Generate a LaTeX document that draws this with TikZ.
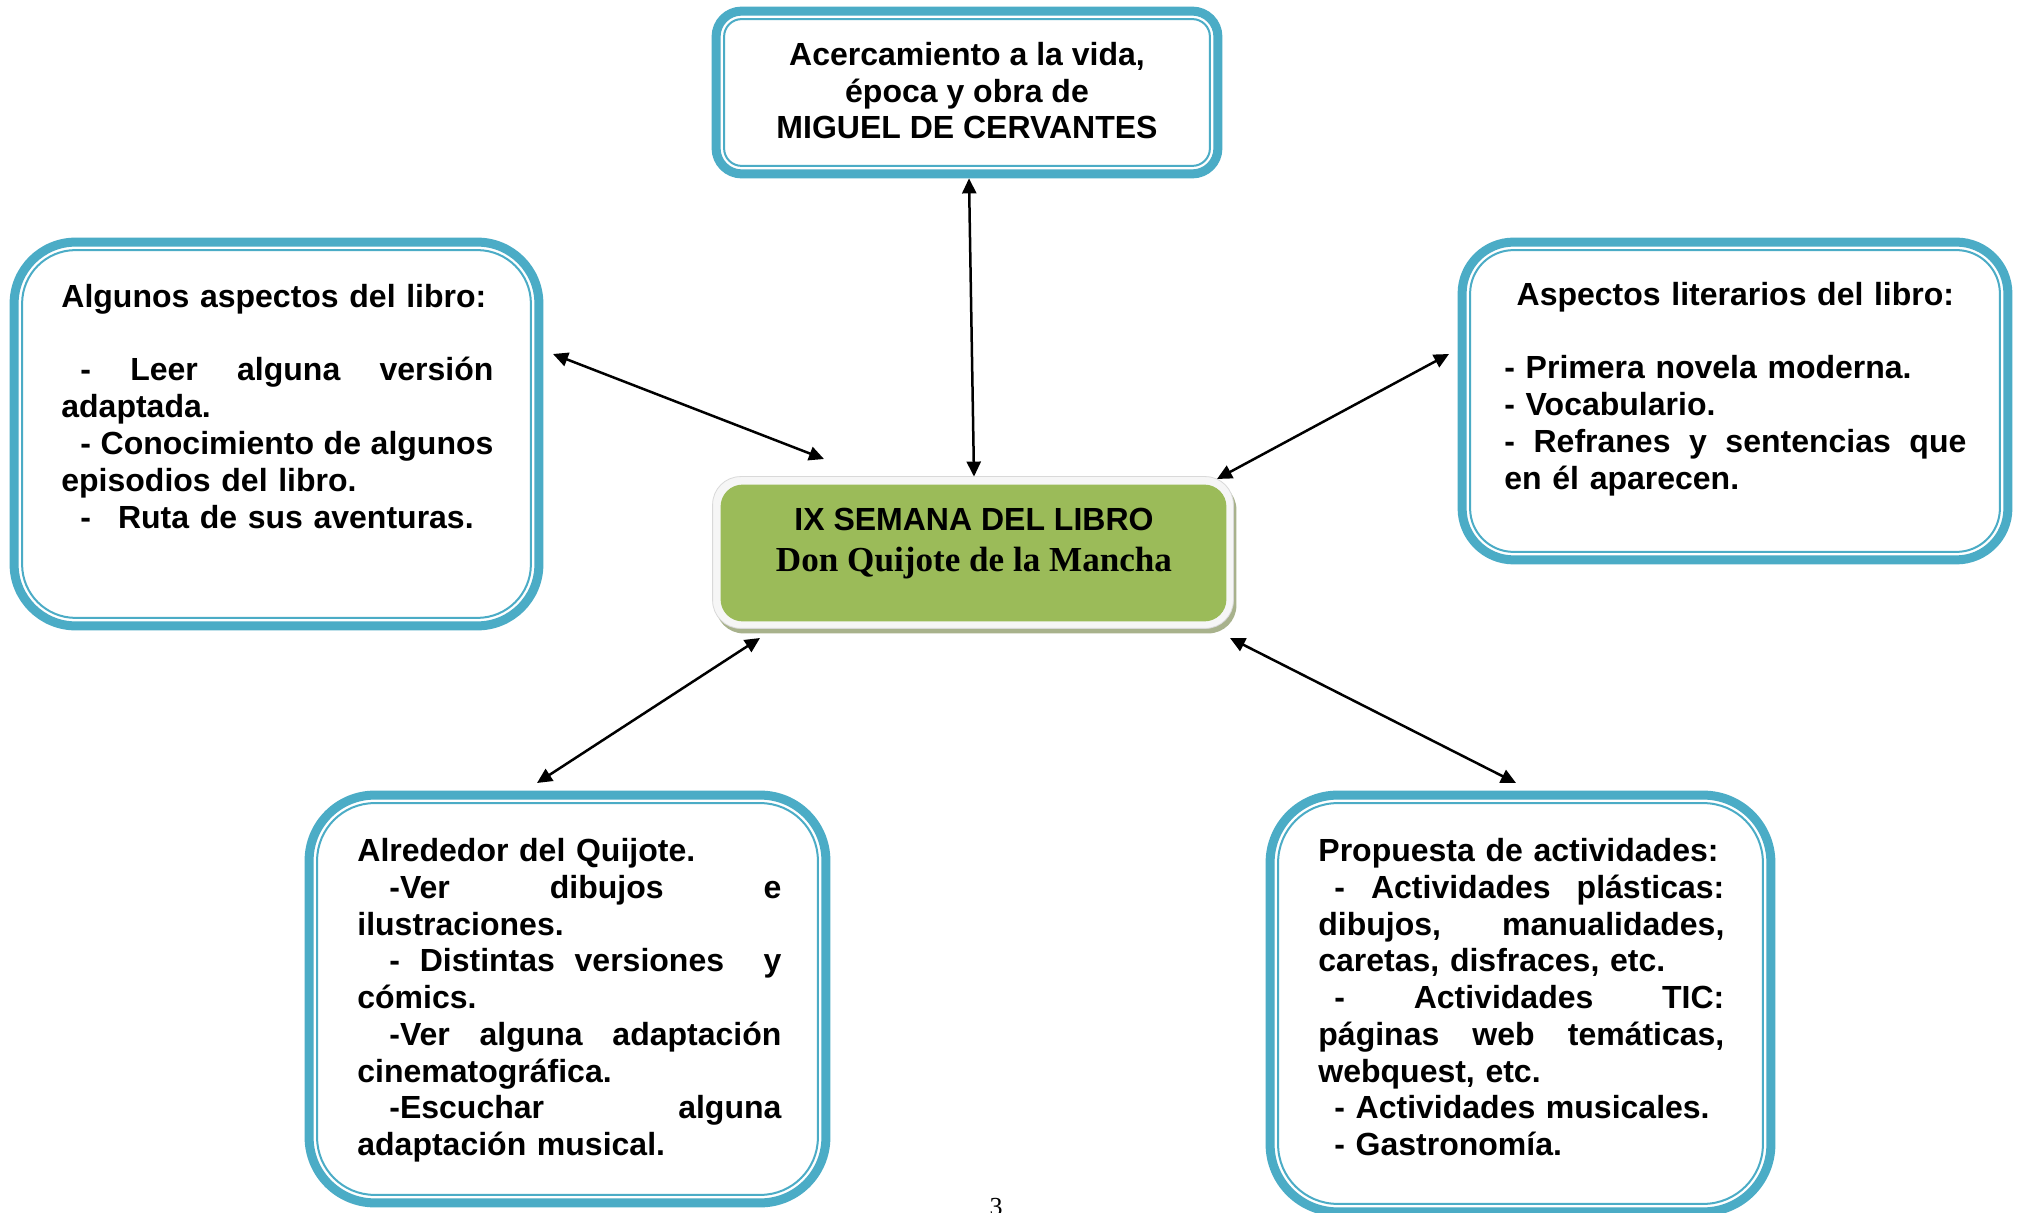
\documentclass[tikz,border=0pt]{standalone}
\usepackage{fontspec}
\setmainfont{Liberation Sans}
\newfontfamily\serifnum{Liberation Serif}
\usepackage{graphicx}
\usetikzlibrary{arrows.meta,fit}
\definecolor{teal1}{HTML}{4BACC6}
\definecolor{olive1}{HTML}{9BBB59}
\definecolor{shad}{RGB}{168,178,140}
\newlength\jwid
\newcommand\jline[2][0pt]{\leavevmode\hbox to \jwid{\hspace*{#1}\spreadwords#2 \relax}}
\def\spreadwords#1 #2\relax{#1\ifx\relax#2\relax\else\hfill\spreadwords#2\relax\fi}
\newcommand\dbox[6]{%
  \path (#2,#3) coordinate (#1-nw) (#4,#5) coordinate (#1-se);
  \node[inner sep=0pt, fit=(#1-nw)(#1-se)] (#1) {};
  \pgfmathsetmacro\rada{(#6-4.5)*0.5}%
  \pgfmathsetmacro\radb{(#6-12.5)*0.5}%
  \draw[teal1, line width=4.5pt, rounded corners=\rada pt] ([shift={(2.25pt,-2.25pt)}]#1.north west) rectangle ([shift={(-2.25pt,2.25pt)}]#1.south east);
  \draw[teal1, line width=1pt, rounded corners=\radb pt] ([shift={(6.25pt,-6.25pt)}]#1.north west) rectangle ([shift={(-6.25pt,6.25pt)}]#1.south east);
}
\begin{document}
\begin{tikzpicture}[x=0.5pt,y=-0.5pt,
  txt/.style={inner sep=0pt, anchor=north west, align=left, font=\bfseries\fontsize{16pt}{18.4pt}\selectfont},
  conn/.style={{Triangle[length=7.5pt,width=7pt]}-{Triangle[length=7.5pt,width=7pt]}, line width=1.25pt, black}]
\useasboundingbox (0,0) rectangle (2020,1213);
\fill[white] (0,0) rectangle (2020,1213);

% boxes
\dbox{top}{712}{7}{1222}{178}{30}
\dbox{left}{10}{238}{543}{630}{66}
\dbox{right}{1458}{238}{2012}{564}{56}
\dbox{bl}{305}{791}{830}{1207}{70}
\dbox{br}{1266}{791}{1775}{1216}{72}

% central box
\path (713,477) coordinate (c-nw) (1233,628) coordinate (c-se);
\node[inner sep=0pt, fit=(c-nw)(c-se)] (center) {};
\fill[shad, rounded corners=14pt] ([shift={(1.5pt,-2.5pt)}]center.north west) rectangle ([shift={(1.5pt,-2.5pt)}]center.south east);
\filldraw[fill=gray!7, draw=gray!30, line width=0.4pt, rounded corners=14pt] (center.north west) rectangle (center.south east);
\fill[olive1, rounded corners=11pt] ([shift={(4pt,-4pt)}]center.north west) rectangle ([shift={(-3.5pt,3.5pt)}]center.south east);

% texts
\node[inner sep=0pt, anchor=north, align=center, font=\bfseries\fontsize{16pt}{18.4pt}\selectfont] (tt) at (967,39)
  {\rule{0pt}{13pt}Acercamiento a la vida,\\ época y obra de\\ MIGUEL DE CERVANTES};

\node[txt, text width=216pt] (lt) at (61,281) {\setlength\jwid{216pt}\rule{0pt}{13pt}Algunos aspectos del libro:\\[18.4pt]
\jline[9.5pt]{- Leer alguna versión}\\
adaptada.\\
\jline[9.5pt]{- Conocimiento de algunos}\\
episodios del libro.\\
\hspace*{9.5pt}-\hspace{13.5pt}Ruta de sus aventuras.};

\node[txt, text width=231pt] (rt) at (1504,279) {\setlength\jwid{231pt}\rule{0pt}{13pt}\hbox to 231pt{\hfil Aspectos literarios del libro:\hfil}\\[18.4pt]
- Primera novela moderna.\\
- Vocabulario.\\
\jline{- Refranes y sentencias que}\\
en él aparecen.};

\node[txt, text width=212pt] (blt) at (357,835) {\setlength\jwid{212pt}\rule{0pt}{13pt}Alrededor del Quijote.\\
\jline[16pt]{-Ver dibujos e}\\
ilustraciones.\\
\leavevmode\hbox to 212pt{\hspace*{16pt}-\hfill Distintas\hfill versiones\hfill\hfill y}\\
cómics.\\
\jline[16pt]{-Ver alguna adaptación}\\
cinematográfica.\\
\jline[16pt]{-Escuchar alguna}\\
adaptación musical.};

\node[txt, text width=203pt] (brt) at (1318,835) {\setlength\jwid{203pt}\rule{0pt}{13pt}Propuesta de actividades:\\
\jline[8pt]{- Actividades plásticas:}\\
\jline{dibujos, manualidades,}\\
caretas, disfraces, etc.\\
\jline[8pt]{- Actividades TIC:}\\
\jline{páginas web temáticas,}\\
webquest, etc.\\
\hspace*{8pt}- Actividades musicales.\\
\hspace*{8pt}- Gastronomía.};

\node[anchor=base, inner sep=0pt, font=\bfseries\fontsize{16pt}{18.4pt}\selectfont] (c1) at (974,531) {IX SEMANA DEL LIBRO};
\node[anchor=base, inner sep=0pt, font=\serifnum\bfseries] (c2) at (974,572) {\resizebox{198pt}{!}{Don Quijote de la Mancha}};

\node[anchor=base, inner sep=0pt, font=\serifnum\fontsize{13pt}{15pt}\selectfont] (pg) at (996,1215) {3};

% connectors
\coordinate (aL1) at (553,354);
\coordinate (aL2) at (824,459);
\coordinate (aR1) at (1217,479);
\coordinate (aR2) at (1449,354);
\coordinate (aB1) at (760,638);
\coordinate (aB2) at (537,783);
\coordinate (aC1) at (1230,638);
\coordinate (aC2) at (1516,783);
\draw[conn] ([xshift=1pt]top.south) -- ([xshift=0.5pt]center.north);
\draw[conn] (aL1) -- (aL2);
\draw[conn] (aR1) -- (aR2);
\draw[conn] (aB1) -- (aB2);
\draw[conn] (aC1) -- (aC2);
\end{tikzpicture}
\end{document}
